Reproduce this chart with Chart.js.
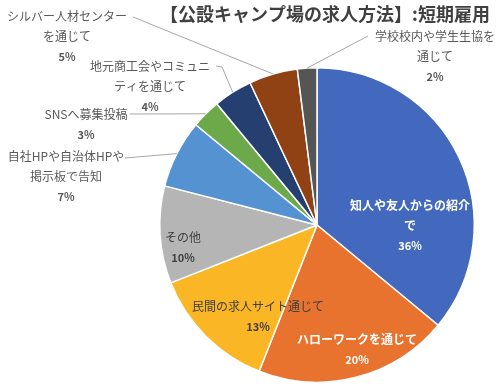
<!DOCTYPE html>
<html>
<head>
<meta charset="utf-8">
<script src="https://cdn.jsdelivr.net/npm/chart.js@4/dist/chart.umd.min.js"></script>
<style>
  html, body { margin: 0; padding: 0; background: #fff; }
  #c { display: block; }
</style>
</head>
<body>
<canvas id="c" width="500" height="391"></canvas>
<script>
// values (percent)
const categories = [
  '知人や友人からの紹介で', 'ハローワークを通じて', '民間の求人サイト通じて', 'その他',
  '自社HPや自治体HPや掲示板で告知', 'SNSへ募集投稿', '地元商工会やコミュニティを通じて',
  'シルバー人材センターを通じて', '学校校内や学生生協を通じて'
];
const values = [36, 20, 13, 10, 7, 3, 4, 5, 2];
// category text as wrapped in the picture
const labelLines = [
  ['知人や友人からの紹介', 'で'],
  ['ハローワークを通じて'],
  ['民間の求人サイト通じて'],
  ['その他'],
  ['自社HPや自治体HPや', '掲示板で告知'],
  ['SNSへ募集投稿'],
  ['地元商工会やコミュニ', 'ティを通じて'],
  ['シルバー人材センター', 'を通じて'],
  ['学校校内や学生生協を', '通じて']
];
const colors = ['#4269BD', '#E8732F', '#FBB626', '#B5B5B5', '#5592D1', '#6CA94B', '#243F70', '#914214', '#555555'];
const titleText = '【公設キャンプ場の求人方法】:短期雇用';

const FONT = '"Noto Sans CJK JP", "Noto Sans", sans-serif';

// where each label sits (text centre of first line) and how its leader bends
const labelPos = [
  { x: 410, y: 205, color: '#ffffff', bold: true },
  { x: 357, y: 339, color: '#ffffff', bold: true },
  { x: 258, y: 306, color: '#404040' },
  { x: 183, y: 237, color: '#404040' },
  { x: 66, y: 156, color: '#595959', lead: [[125, 158]] },
  { x: 86, y: 114, color: '#595959', lead: [[130, 114]] },
  { x: 150, y: 66, color: '#595959', lead: [[216, 66], [222, 67]] },
  { x: 67, y: 16, color: '#595959', lead: [[133, 17]] },
  { x: 435, y: 36, color: '#595959', lead: [[368, 36]] }
];

const pieLabels = {
  id: 'pieLabels',
  afterDatasetsDraw(chart) {
    const ctx = chart.ctx;
    const arcs = chart.getDatasetMeta(0).data;
    ctx.save();
    ctx.textAlign = 'center';
    ctx.textBaseline = 'middle';

    arcs.forEach((arc, i) => {
      const p = arc.getProps(['x', 'y', 'startAngle', 'endAngle', 'outerRadius'], true);
      const pos = labelPos[i];
      if (pos.lead) {
        const mid = (p.startAngle + p.endAngle) / 2;
        const ex = p.x + Math.cos(mid) * p.outerRadius;
        const ey = p.y + Math.sin(mid) * p.outerRadius;
        ctx.strokeStyle = '#A6A6A6';
        ctx.lineWidth = 1;
        ctx.beginPath();
        ctx.moveTo(pos.lead[0][0], pos.lead[0][1]);
        pos.lead.slice(1).forEach(pt => ctx.lineTo(pt[0], pt[1]));
        ctx.lineTo(ex, ey);
        ctx.stroke();
      }
      const lines = labelLines[i];
      ctx.fillStyle = pos.color;
      lines.forEach((t, k) => {
        ctx.font = (pos.bold ? 'bold ' : '') + '12px ' + FONT;
        ctx.fillText(t, pos.x, pos.y + k * 20.5);
      });
      ctx.font = 'bold 11px ' + FONT;
      ctx.fillText(values[i] + '%', pos.x, pos.y + lines.length * 20.5);
    });

    // title
    ctx.fillStyle = '#404040';
    ctx.font = 'bold 18px ' + FONT;
    ctx.fillText(titleText, 325, 14);
    ctx.restore();
  }
};

new Chart(document.getElementById('c'), {
  type: 'pie',
  data: {
    labels: categories,
    datasets: [{
      data: values,
      backgroundColor: colors,
      borderColor: '#ffffff',
      borderWidth: 1.5
    }]
  },
  options: {
    responsive: false,
    animation: false,
    layout: { padding: { top: 67, bottom: 8, left: 159, right: 25 } },
    plugins: {
      legend: { display: false },
      tooltip: { enabled: false }
    }
  },
  plugins: [pieLabels]
});
</script>
</body>
</html>
